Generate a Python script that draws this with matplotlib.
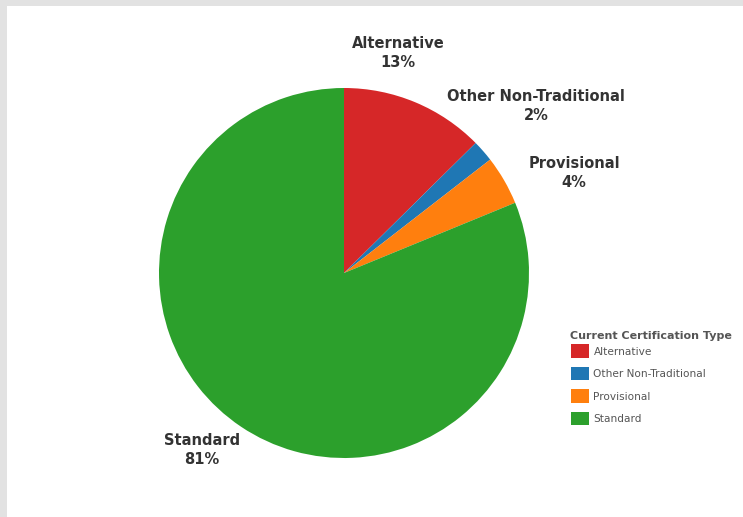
import matplotlib.pyplot as plt
from matplotlib.patches import Rectangle

# certification types and their shares (percent)
types = ['Alternative', 'Other Non-Traditional', 'Provisional', 'Standard']
shares = [12.6, 1.9, 4.3, 81.2]
colors = ['#d62728', '#1f77b4', '#ff7f0e', '#2ca02c']

W, H = 743, 517
fig = plt.figure(figsize=(W / 100, H / 100), dpi=100)
fig.patch.set_facecolor('#e2e2e2')
# white card on the grey background
fig.patches.append(Rectangle((7 / W, 0), 1, (H - 6) / H, transform=fig.transFigure,
                             facecolor='white', edgecolor='none', zorder=-5))

ax = fig.add_axes([0, 0, 1, 1])
ax.patch.set_alpha(0)
cx, cy, r = 344, H - 273, 185
wedges, _ = ax.pie(shares, colors=colors, startangle=90, counterclock=False,
                   center=(cx, cy), radius=r, wedgeprops=dict(linewidth=0))
ax.set_xlim(0, W)
ax.set_ylim(0, H)
ax.set_aspect('equal')
ax.axis('off')

# label positions (pixels, top-left origin)
label_pos = [(398, 53), (536, 106), (574, 173), (202, 450)]
total = sum(shares)
for name, v, (lx, ly) in zip(types, shares, label_pos):
    ax.text(lx, H - ly, f'{name}\n{round(v / total * 100)}%', ha='center', va='center',
            fontsize=10.5, fontweight='bold', color='#333333', linespacing=1.4)

# legend title drawn separately so the gap to the entries can be set
ax.text(570, H - 336, 'Current Certification Type', ha='left', va='center',
        fontsize=8, fontweight='bold', color='#555555')
leg = ax.legend(wedges, types, loc='upper left', bbox_to_anchor=(566 / W, (H - 339) / H),
                frameon=False, fontsize=7.6,
                handlelength=1.7, handleheight=1.6, handletextpad=0.4,
                labelspacing=0.85, borderpad=0)
for t in leg.get_texts():
    t.set_color('#555555')

fig.savefig('out.png', dpi=100, facecolor=fig.get_facecolor())
